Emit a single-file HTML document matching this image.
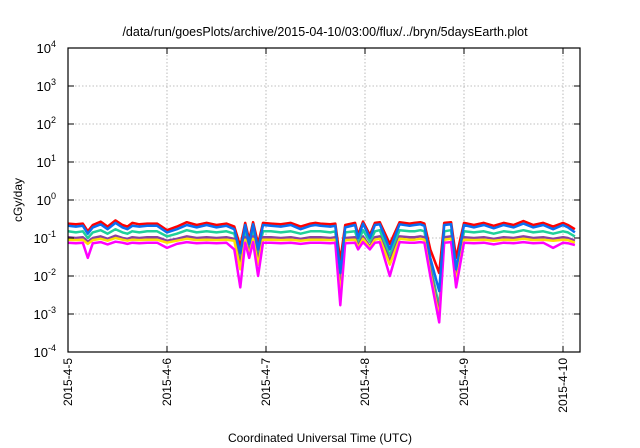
<!DOCTYPE html>
<html><head><meta charset="utf-8"><style>
body{margin:0;background:#fff}
svg{display:block;font-family:"Liberation Sans",sans-serif}
</style></head><body>
<svg width="640" height="448" viewBox="0 0 640 448">
<text x="325" y="36" text-anchor="middle" font-size="12.5">/data/run/goesPlots/archive/2015-04-10/03:00/flux/../bryn/5daysEarth.plot</text>
<g id="grid"></g>
<g id="series"></g>
<rect x="68" y="48" width="512" height="304" fill="none" stroke="#000" stroke-width="1.2"/>
<g id="axes"></g>
<text x="22" y="200" transform="rotate(-90 22 200)" text-anchor="middle" font-size="12">cGy/day</text>
<text x="320" y="442" text-anchor="middle" font-size="12">Coordinated Universal Time (UTC)</text>
</svg>
<script>
const yExps=[-4,-3,-2,-1,0,1,2,3,4];
const xTickLabels=["2015-4-5","2015-4-6","2015-4-7","2015-4-8","2015-4-9","2015-4-10"];
const times=[0,0.08,0.15,0.2,0.25,0.33,0.4,0.48,0.55,0.6,0.65,0.72,0.8,0.9,1.0,1.1,1.2,1.3,1.4,1.5,1.6,1.68,1.74,1.79,1.83,1.87,1.92,1.97,2.05,2.15,2.25,2.35,2.45,2.5,2.55,2.65,2.7,2.75,2.8,2.9,2.93,2.98,3.05,3.1,3.15,3.25,3.35,3.45,3.5,3.56,3.6,3.66,3.75,3.8,3.87,3.92,4.0,4.1,4.2,4.3,4.4,4.5,4.6,4.7,4.8,4.9,5.0,5.05,5.12];
const redVals=[.24,.23,.24,.15,.22,.27,.2,.29,.22,.2,.25,.23,.24,.24,.16,.2,.26,.22,.25,.22,.24,.2,.06,.25,.09,.26,.07,.25,.24,.23,.25,.2,.24,.25,.24,.23,.24,.025,.22,.25,.12,.27,.12,.25,.26,.07,.26,.24,.25,.26,.24,.05,.012,.25,.26,.03,.25,.22,.25,.21,.25,.22,.28,.22,.25,.2,.25,.22,.17];
const blueVals=[.21,.2,.21,.13,.19,.23,.17,.25,.19,.17,.21,.2,.21,.21,.14,.17,.22,.19,.22,.19,.21,.17,.04,.22,.07,.23,.05,.22,.21,.2,.22,.17,.21,.22,.21,.2,.21,.012,.19,.22,.1,.24,.1,.22,.23,.05,.23,.21,.22,.23,.21,.03,.004,.22,.23,.015,.22,.19,.22,.18,.22,.19,.24,.19,.22,.17,.22,.19,.14];
const tealVals=[.15,.14,.15,.1,.14,.16,.13,.17,.14,.13,.15,.14,.15,.15,.11,.13,.16,.14,.15,.14,.15,.13,.03,.15,.05,.16,.04,.15,.15,.14,.15,.13,.15,.15,.15,.14,.15,.006,.14,.15,.08,.16,.08,.15,.16,.035,.16,.15,.15,.16,.15,.02,.0015,.15,.16,.01,.15,.14,.15,.13,.15,.14,.16,.14,.15,.13,.15,.14,.11];
const purpleVals=[.105,.1,.105,.08,.1,.11,.095,.115,.1,.095,.105,.1,.105,.105,.085,.095,.11,.1,.105,.1,.105,.095,.02,.105,.04,.11,.025,.105,.105,.1,.105,.095,.105,.105,.105,.1,.105,.004,.1,.105,.06,.11,.06,.105,.11,.025,.11,.105,.105,.11,.105,.015,.001,.105,.11,.008,.105,.1,.105,.095,.105,.1,.11,.1,.105,.095,.105,.1,.085];
const yellowVals=[.09,.088,.09,.07,.088,.095,.085,.1,.09,.085,.09,.088,.09,.09,.075,.085,.095,.088,.09,.088,.09,.085,.015,.09,.035,.095,.02,.09,.09,.088,.09,.085,.09,.09,.09,.088,.09,.003,.088,.09,.055,.095,.055,.09,.095,.02,.095,.09,.09,.095,.09,.012,.0008,.09,.095,.007,.09,.088,.09,.085,.09,.088,.095,.088,.09,.085,.09,.088,.075];
const magentaVals=[.075,.073,.075,.03,.073,.078,.068,.08,.075,.07,.075,.073,.075,.075,.055,.07,.078,.073,.075,.073,.075,.05,.005,.075,.03,.078,.01,.075,.075,.073,.075,.07,.075,.075,.075,.073,.075,.0017,.073,.075,.05,.078,.05,.075,.078,.01,.078,.075,.075,.078,.075,.01,.0006,.075,.078,.005,.075,.073,.075,.068,.075,.073,.078,.073,.075,.055,.075,.073,.065];
const X0=68,X1=580,Y0=48,Y1=352,DAYS=512/99;
const xS=d=>X0+d*(X1-X0)/DAYS;
const yS=v=>Y1-(Math.log10(v)+4)*(Y1-Y0)/8;
const NS="http://www.w3.org/2000/svg";
function mk(tag,attrs,parent){const e=document.createElementNS(NS,tag);for(const k in attrs)e.setAttribute(k,attrs[k]);parent.appendChild(e);return e;}
const grid=document.getElementById('grid'),axes=document.getElementById('axes'),ser=document.getElementById('series');
yExps.forEach(e=>{const y=yS(Math.pow(10,e));
 if(e>-4&&e<4){const l=mk('line',{x1:X0,x2:X1,y1:y,y2:y,stroke:'#aaa','stroke-width':0.8,'stroke-dasharray':'1.5 2'},grid);
 
 }
 const t1=mk('line',{x1:X0,x2:X0+6,y1:y,y2:y,stroke:'#000'},axes);
 
 
 mk('line',{x1:X1,x2:X1-6,y1:y,y2:y,stroke:'#000'},axes);
 const tx=mk('text',{x:56,y:y+5,'text-anchor':'end','font-size':13},axes);
 
 
 tx.textContent='10';
 const sp=mk('tspan',{dy:-6,'font-size':9},tx);sp.textContent=String(e);
});
xTickLabels.forEach((lab,i)=>{const x=xS(i);
 if(i>0){const l=mk('line',{x1:x,x2:x,y1:Y0,y2:Y1,stroke:'#aaa','stroke-width':0.8,'stroke-dasharray':'1.5 2'},grid);
 
 }
 mk('line',{x1:x,x2:x,y1:Y1,y2:Y1-6,stroke:'#000'},axes);
 mk('line',{x1:x,x2:x,y1:Y0,y2:Y0+6,stroke:'#000'},axes);
 const t=mk('text',{x:x+4,y:358,'text-anchor':'end','font-size':12,transform:`rotate(-90 ${x+4} 358)`},axes);
 
 
 t.textContent=lab;
});
const seriesList=[['red',redVals,'#f00'],['teal',tealVals,'#1fd09a'],['purple',purpleVals,'#8a3fa0'],['yellow',yellowVals,'#ffe000'],['magenta',magentaVals,'#f0f'],['blue',blueVals,'#0a6ef0']];
seriesList.forEach(([n,vals,c])=>{
 const m=Math.min(times.length,vals.length);
 let d='';for(let i=0;i<m;i++)d+=(i?'L':'M')+xS(times[i]).toFixed(1)+','+yS(vals[i]).toFixed(1);
 const p=mk('path',{d:d,fill:'none',stroke:c,'stroke-width':2.5,'stroke-linejoin':'round'},ser);
 
 
});
</script>
</body></html>
